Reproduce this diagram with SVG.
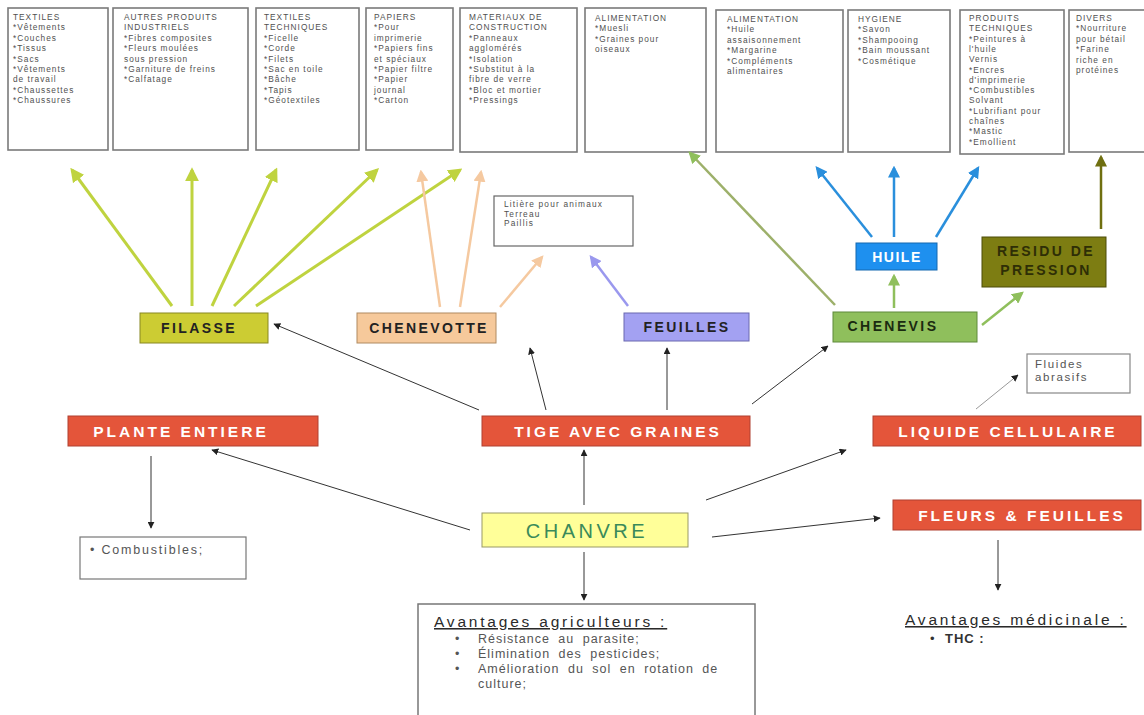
<svg xmlns="http://www.w3.org/2000/svg" width="1144" height="715" viewBox="0 0 1144 715">
  <style>
    .card{fill:#fff;stroke:#7a7a7a;stroke-width:1.6}
    .card-t{font-family:"Liberation Sans",Arial,sans-serif;font-size:8.3px;fill:#505050;letter-spacing:1px}
    .red{fill:#e4553a;stroke:#b04030;stroke-width:1}
    .red-t{font-family:"Liberation Sans",Arial,sans-serif;font-size:15.5px;font-weight:bold;fill:#fff;letter-spacing:3px;text-anchor:middle}
    .lbl{font-family:"Liberation Sans",Arial,sans-serif;font-size:14px;font-weight:bold;letter-spacing:2.4px;text-anchor:middle}
    .note{font-family:"Liberation Sans",Arial,sans-serif;font-size:12.5px;fill:#555;letter-spacing:1px}
    .head{font-family:"Liberation Sans",Arial,sans-serif;font-size:15.5px;fill:#2a2a2a;letter-spacing:2.8px;text-decoration:underline}
    .thin{stroke:#333;stroke-width:1;fill:none;marker-end:url(#ah-black)}
  </style>
  <defs>
    <marker id="ah-black" viewBox="0 0 10 10" refX="9" refY="5" markerWidth="7" markerHeight="7" markerUnits="userSpaceOnUse" orient="auto"><path d="M0,0 L10,5 L0,10 z" fill="#222"/></marker>
    <marker id="ah-yellow" viewBox="0 0 10 10" refX="8" refY="5" markerWidth="14" markerHeight="14" markerUnits="userSpaceOnUse" orient="auto"><path d="M0,0 L10,5 L0,10 z" fill="#bfd33f"/></marker>
    <marker id="ah-peach" viewBox="0 0 10 10" refX="8" refY="5" markerWidth="12" markerHeight="12" markerUnits="userSpaceOnUse" orient="auto"><path d="M0,0 L10,5 L0,10 z" fill="#f5c9a0"/></marker>
    <marker id="ah-lav" viewBox="0 0 10 10" refX="8" refY="5" markerWidth="12" markerHeight="12" markerUnits="userSpaceOnUse" orient="auto"><path d="M0,0 L10,5 L0,10 z" fill="#9a98ee"/></marker>
    <marker id="ah-green" viewBox="0 0 10 10" refX="8" refY="5" markerWidth="12" markerHeight="12" markerUnits="userSpaceOnUse" orient="auto"><path d="M0,0 L10,5 L0,10 z" fill="#8fbf5c"/></marker>
    <marker id="ah-blue" viewBox="0 0 10 10" refX="8" refY="5" markerWidth="12" markerHeight="12" markerUnits="userSpaceOnUse" orient="auto"><path d="M0,0 L10,5 L0,10 z" fill="#2a8fdc"/></marker>
    <marker id="ah-olive" viewBox="0 0 10 10" refX="8" refY="5" markerWidth="12" markerHeight="12" markerUnits="userSpaceOnUse" orient="auto"><path d="M0,0 L10,5 L0,10 z" fill="#6f6f10"/></marker>
  </defs>
  <rect width="1144" height="715" fill="#fff"/>

  <!-- product cards along the top -->
  <g id="card-textiles">
    <rect class="card" x="8" y="8" width="100" height="142"/>
    <text class="card-t" x="13" y="20"><tspan x="13">TEXTILES</tspan><tspan x="13" dy="10.4">*Vêtements</tspan><tspan x="13" dy="10.4">*Couches</tspan><tspan x="13" dy="10.4">*Tissus</tspan><tspan x="13" dy="10.4">*Sacs</tspan><tspan x="13" dy="10.4">*Vêtements</tspan><tspan x="13" dy="10.4">de travail</tspan><tspan x="13" dy="10.4">*Chaussettes</tspan><tspan x="13" dy="10.4">*Chaussures</tspan></text>
  </g>
  <g id="card-autres">
    <rect class="card" x="113" y="8" width="135" height="142"/>
    <text class="card-t" x="124" y="20"><tspan x="124">AUTRES PRODUITS</tspan><tspan x="124" dy="10.4">INDUSTRIELS</tspan><tspan x="124" dy="10.4">*Fibres composites</tspan><tspan x="124" dy="10.4">*Fleurs moulées</tspan><tspan x="124" dy="10.4">sous pression</tspan><tspan x="124" dy="10.4">*Garniture de freins</tspan><tspan x="124" dy="10.4">*Calfatage</tspan></text>
  </g>
  <g id="card-textiles-tech">
    <rect class="card" x="256" y="8" width="103" height="142"/>
    <text class="card-t" x="264" y="20"><tspan x="264">TEXTILES</tspan><tspan x="264" dy="10.4">TECHNIQUES</tspan><tspan x="264" dy="10.4">*Ficelle</tspan><tspan x="264" dy="10.4">*Corde</tspan><tspan x="264" dy="10.4">*Filets</tspan><tspan x="264" dy="10.4">*Sac en toile</tspan><tspan x="264" dy="10.4">*Bâche</tspan><tspan x="264" dy="10.4">*Tapis</tspan><tspan x="264" dy="10.4">*Géotextiles</tspan></text>
  </g>
  <g id="card-papiers">
    <rect class="card" x="366" y="8" width="87" height="142"/>
    <text class="card-t" x="374" y="20"><tspan x="374">PAPIERS</tspan><tspan x="374" dy="10.4">*Pour</tspan><tspan x="374" dy="10.4">imprimerie</tspan><tspan x="374" dy="10.4">*Papiers fins</tspan><tspan x="374" dy="10.4">et spéciaux</tspan><tspan x="374" dy="10.4">*Papier filtre</tspan><tspan x="374" dy="10.4">*Papier</tspan><tspan x="374" dy="10.4">journal</tspan><tspan x="374" dy="10.4">*Carton</tspan></text>
  </g>
  <g id="card-materiaux">
    <rect class="card" x="460" y="8" width="117" height="144"/>
    <text class="card-t" x="469" y="20"><tspan x="469">MATERIAUX DE</tspan><tspan x="469" dy="10.4">CONSTRUCTION</tspan><tspan x="469" dy="10.4">*Panneaux</tspan><tspan x="469" dy="10.4">agglomérés</tspan><tspan x="469" dy="10.4">*Isolation</tspan><tspan x="469" dy="10.4">*Substitut à la</tspan><tspan x="469" dy="10.4">fibre de verre</tspan><tspan x="469" dy="10.4">*Bloc et mortier</tspan><tspan x="469" dy="10.4">*Pressings</tspan></text>
  </g>
  <g id="card-alim1">
    <rect class="card" x="585" y="8" width="121" height="144"/>
    <text class="card-t" x="595" y="21"><tspan x="595">ALIMENTATION</tspan><tspan x="595" dy="10.4">*Muesli</tspan><tspan x="595" dy="10.4">*Graines pour</tspan><tspan x="595" dy="10.4">oiseaux</tspan></text>
  </g>
  <g id="card-alim2">
    <rect class="card" x="716" y="10" width="127" height="142"/>
    <text class="card-t" x="727" y="22"><tspan x="727">ALIMENTATION</tspan><tspan x="727" dy="10.4">*Huile</tspan><tspan x="727" dy="10.4">assaisonnement</tspan><tspan x="727" dy="10.4">*Margarine</tspan><tspan x="727" dy="10.4">*Compléments</tspan><tspan x="727" dy="10.4">alimentaires</tspan></text>
  </g>
  <g id="card-hygiene">
    <rect class="card" x="848" y="10" width="102" height="142"/>
    <text class="card-t" x="858" y="22"><tspan x="858">HYGIENE</tspan><tspan x="858" dy="10.4">*Savon</tspan><tspan x="858" dy="10.4">*Shampooing</tspan><tspan x="858" dy="10.4">*Bain moussant</tspan><tspan x="858" dy="10.4">*Cosmétique</tspan></text>
  </g>
  <g id="card-produits-tech">
    <rect class="card" x="960" y="10" width="104" height="144"/>
    <text class="card-t" x="969" y="21"><tspan x="969">PRODUITS</tspan><tspan x="969" dy="10.3">TECHNIQUES</tspan><tspan x="969" dy="10.3">*Peintures à</tspan><tspan x="969" dy="10.3">l'huile</tspan><tspan x="969" dy="10.3">Vernis</tspan><tspan x="969" dy="10.3">*Encres</tspan><tspan x="969" dy="10.3">d'imprimerie</tspan><tspan x="969" dy="10.3">*Combustibles</tspan><tspan x="969" dy="10.3">Solvant</tspan><tspan x="969" dy="10.3">*Lubrifiant pour</tspan><tspan x="969" dy="10.3">chaînes</tspan><tspan x="969" dy="10.3">*Mastic</tspan><tspan x="969" dy="10.3">*Emollient</tspan></text>
  </g>
  <g id="card-divers">
    <rect class="card" x="1069" y="10" width="80" height="142"/>
    <text class="card-t" x="1076" y="21"><tspan x="1076">DIVERS</tspan><tspan x="1076" dy="10.4">*Nourriture</tspan><tspan x="1076" dy="10.4">pour bétail</tspan><tspan x="1076" dy="10.4">*Farine</tspan><tspan x="1076" dy="10.4">riche en</tspan><tspan x="1076" dy="10.4">protéines</tspan></text>
  </g>

  <!-- connectors -->
  <g id="connectors">
    <!-- filasse uses -->
    <line x1="172" y1="306" x2="72" y2="170" stroke="#bfd33f" stroke-width="3" marker-end="url(#ah-yellow)"/>
    <line x1="192" y1="306" x2="192" y2="170" stroke="#bfd33f" stroke-width="3" marker-end="url(#ah-yellow)"/>
    <line x1="212" y1="306" x2="276" y2="170" stroke="#bfd33f" stroke-width="3" marker-end="url(#ah-yellow)"/>
    <line x1="234" y1="306" x2="377" y2="170" stroke="#bfd33f" stroke-width="3" marker-end="url(#ah-yellow)"/>
    <line x1="256" y1="306" x2="460" y2="170" stroke="#bfd33f" stroke-width="3" marker-end="url(#ah-yellow)"/>
    <!-- chenevotte uses -->
    <line x1="440" y1="307" x2="421" y2="172" stroke="#f5c9a0" stroke-width="2.5" marker-end="url(#ah-peach)"/>
    <line x1="460" y1="307" x2="481" y2="172" stroke="#f5c9a0" stroke-width="2.5" marker-end="url(#ah-peach)"/>
    <line x1="500" y1="307" x2="542" y2="257" stroke="#f5c9a0" stroke-width="2.5" marker-end="url(#ah-peach)"/>
    <!-- feuilles -->
    <line x1="628" y1="306" x2="591" y2="257" stroke="#9a98ee" stroke-width="2.5" marker-end="url(#ah-lav)"/>
    <!-- chenevis -->
    <line x1="835" y1="305" x2="690" y2="153" stroke="#9db06a" stroke-width="2.5" marker-end="url(#ah-green)"/>
    <line x1="894" y1="308" x2="894" y2="276" stroke="#8fbf5c" stroke-width="2.5" marker-end="url(#ah-green)"/>
    <line x1="982" y1="325" x2="1022" y2="293" stroke="#8fbf5c" stroke-width="2.5" marker-end="url(#ah-green)"/>
    <!-- huile -->
    <line x1="872" y1="237" x2="817" y2="168" stroke="#2a8fdc" stroke-width="2.5" marker-end="url(#ah-blue)"/>
    <line x1="894" y1="237" x2="894" y2="168" stroke="#2a8fdc" stroke-width="2.5" marker-end="url(#ah-blue)"/>
    <line x1="936" y1="237" x2="978" y2="168" stroke="#2a8fdc" stroke-width="2.5" marker-end="url(#ah-blue)"/>
    <!-- residu -->
    <line x1="1101" y1="229" x2="1101" y2="157" stroke="#6f6f10" stroke-width="2.5" marker-end="url(#ah-olive)"/>
    <!-- tige -->
    <line class="thin" x1="479" y1="410" x2="274" y2="324"/>
    <line class="thin" x1="546" y1="410" x2="530" y2="348"/>
    <line class="thin" x1="667" y1="410" x2="667" y2="348"/>
    <line class="thin" x1="752" y1="404" x2="828" y2="346"/>
    <!-- liquide -->
    <line x1="976" y1="409" x2="1018" y2="375" stroke="#999" stroke-width="1" marker-end="url(#ah-black)"/>
    <!-- chanvre -->
    <line class="thin" x1="470" y1="530" x2="212" y2="450"/>
    <line class="thin" x1="584" y1="505" x2="584" y2="450"/>
    <line class="thin" x1="706" y1="500" x2="846" y2="450"/>
    <line class="thin" x1="712" y1="537" x2="880" y2="518"/>
    <line class="thin" x1="584" y1="552" x2="584" y2="600"/>
    <!-- plante, fleurs -->
    <line class="thin" x1="151" y1="456" x2="151" y2="528"/>
    <line class="thin" x1="998" y1="540" x2="998" y2="590"/>
  </g>

  <!-- intermediate nodes -->
  <g id="node-filasse">
    <rect x="140" y="313" width="128" height="30" fill="#cccc33" stroke="#888822" stroke-width="1"/>
    <text class="lbl" x="199" y="333" fill="#222">FILASSE</text>
  </g>
  <g id="node-chenevotte">
    <rect x="357" y="313" width="139" height="30" fill="#f6c99b" stroke="#b08a60" stroke-width="1"/>
    <text class="lbl" x="429" y="333" fill="#222">CHENEVOTTE</text>
  </g>
  <g id="node-feuilles">
    <rect x="624" y="313" width="125" height="28" fill="#a3a1f2" stroke="#6a68b0" stroke-width="1"/>
    <text class="lbl" x="687" y="332" fill="#222">FEUILLES</text>
  </g>
  <g id="node-chenevis">
    <rect x="833" y="312" width="144" height="30" fill="#8fbf5c" stroke="#5e8a3a" stroke-width="1"/>
    <text class="lbl" x="893" y="331" fill="#1a2a10">CHENEVIS</text>
  </g>
  <g id="node-huile">
    <rect x="856" y="243" width="81" height="27" fill="#1e90ef" stroke="#1468b0" stroke-width="1"/>
    <text class="lbl" x="897" y="262" fill="#fff" style="letter-spacing:1.5px">HUILE</text>
  </g>
  <g id="node-residu">
    <rect x="982" y="237" width="124" height="50" fill="#7d7d12" stroke="#4d4d08" stroke-width="1"/>
    <text class="lbl" x="1046" y="256" fill="#2e2e06"><tspan x="1046">RESIDU DE</tspan><tspan x="1046" dy="19">PRESSION</tspan></text>
  </g>
  <g id="node-litiere">
    <rect x="494" y="196" width="139" height="50" fill="#fff" stroke="#666" stroke-width="1.2"/>
    <text class="card-t" x="504" y="207" style="letter-spacing:1.2px"><tspan x="504">Litière pour animaux</tspan><tspan x="504" dy="9.5">Terreau</tspan><tspan x="504" dy="9.5">Paillis</tspan></text>
  </g>
  <g id="node-fluides">
    <rect x="1027" y="354" width="103" height="39" fill="#fff" stroke="#888" stroke-width="1.2"/>
    <text class="note" x="1035" y="368" style="font-size:11.5px;letter-spacing:1.6px"><tspan x="1035">Fluides</tspan><tspan x="1035" dy="13">abrasifs</tspan></text>
  </g>

  <!-- main red nodes -->
  <g id="node-plante">
    <rect class="red" x="68" y="416" width="250" height="30"/>
    <text class="red-t" x="181" y="437">PLANTE ENTIERE</text>
  </g>
  <g id="node-tige">
    <rect class="red" x="482" y="416" width="268" height="30"/>
    <text class="red-t" x="618" y="437">TIGE AVEC GRAINES</text>
  </g>
  <g id="node-liquide">
    <rect class="red" x="873" y="416" width="268" height="30"/>
    <text class="red-t" x="1008" y="437">LIQUIDE CELLULAIRE</text>
  </g>
  <g id="node-fleurs">
    <rect class="red" x="893" y="500" width="248" height="30"/>
    <text class="red-t" x="1022" y="521">FLEURS &amp; FEUILLES</text>
  </g>
  <g id="node-chanvre">
    <rect x="482" y="513" width="206" height="34" fill="#ffff99" stroke="#999966" stroke-width="1"/>
    <text x="587" y="538" font-family="Liberation Sans,Arial,sans-serif" font-size="20" fill="#3a8a5a" letter-spacing="3.5" text-anchor="middle">CHANVRE</text>
  </g>

  <!-- leaf notes -->
  <g id="node-combustibles">
    <rect x="80" y="537" width="166" height="42" fill="#fff" stroke="#777" stroke-width="1.2"/>
    <text class="note" x="90" y="554" style="letter-spacing:1.8px">• Combustibles;</text>
  </g>
  <g id="node-avantages-agri">
    <rect x="418" y="604" width="337" height="115" fill="#fff" stroke="#777" stroke-width="1.5"/>
    <text class="head" x="434" y="627">Avantages agriculteurs :</text>
    <text class="note" word-spacing="4"><tspan x="455" y="643">•</tspan><tspan x="478" y="643">Résistance au parasite;</tspan><tspan x="455" y="658">•</tspan><tspan x="478" y="658">Élimination des pesticides;</tspan><tspan x="455" y="673">•</tspan><tspan x="478" y="673">Amélioration du sol en rotation de</tspan><tspan x="478" y="688">culture;</tspan></text>
  </g>
  <g id="node-avantages-med">
    <text class="head" x="905" y="625">Avantages médicinale :</text>
    <text class="note" style="font-size:13px;fill:#333"><tspan x="930" y="643">•</tspan><tspan x="945" y="643" font-weight="bold">THC :</tspan></text>
  </g>
</svg>
